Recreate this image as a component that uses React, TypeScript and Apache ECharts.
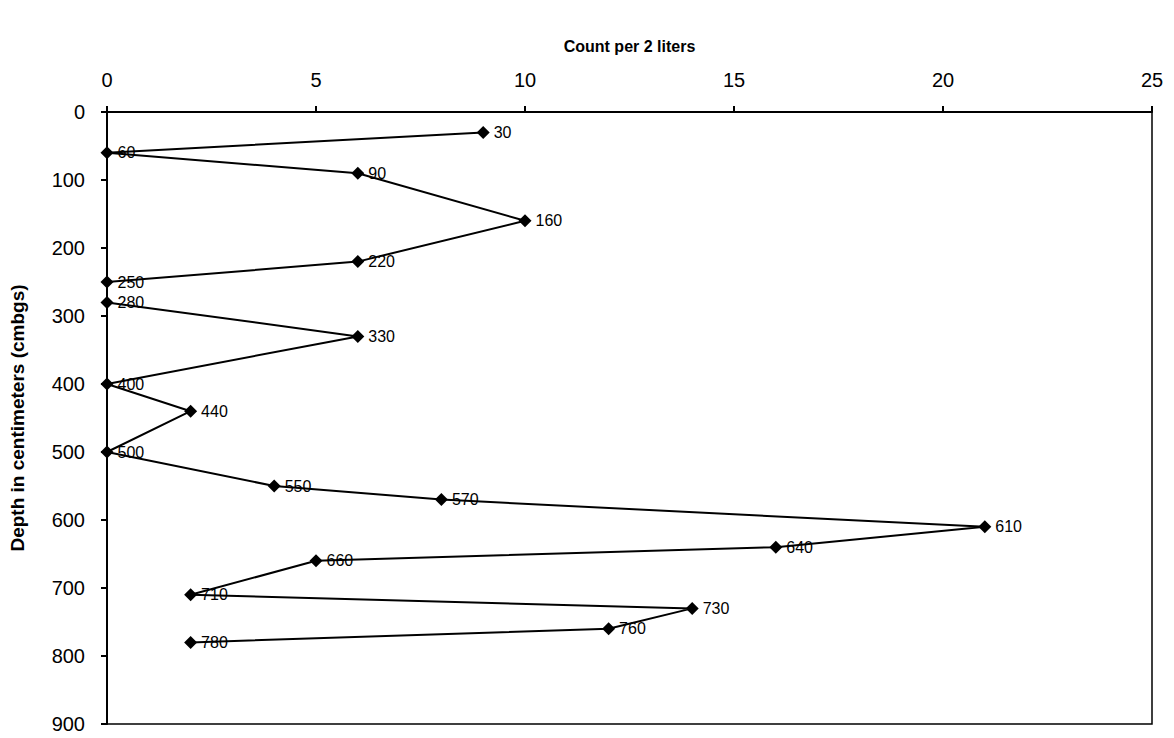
import React, { useEffect, useRef } from "react";
import * as echarts from "echarts";

const depths = [30, 60, 90, 160, 220, 250, 280, 330, 400, 440, 500, 550, 570, 610, 640, 660, 710, 730, 760, 780];
const counts = [9, 0, 6, 10, 6, 0, 0, 6, 0, 2, 0, 4, 8, 21, 16, 5, 2, 14, 12, 2];
const xTitle = "Count per 2 liters";
const yTitle = "Depth in centimeters (cmbgs)";

export default function App() {
  const ref = useRef<HTMLDivElement>(null);
  useEffect(() => {
    if (!ref.current) return;
    const chart = echarts.init(ref.current, null, { renderer: "svg" });
    const data = depths.map((d, i) => [counts[i], d]);
    chart.setOption({
      animation: false,
      backgroundColor: "#ffffff",
      textStyle: { fontFamily: "Liberation Sans, Arial, sans-serif", color: "#000" },
      grid: {
        left: 104,
        right: 22,
        top: 112,
        bottom: 14,
        show: true,
        borderColor: "#000",
        borderWidth: 1.5,
        backgroundColor: "transparent",
      },
      xAxis: {
        type: "value",
        position: "top",
        min: 0,
        max: 25,
        interval: 5,
        name: xTitle,
        nameLocation: "middle",
        nameGap: 58,
        nameTextStyle: { fontSize: 16, fontWeight: "bold", color: "#000" },
        axisLine: { show: true, lineStyle: { color: "#000", width: 2 } },
        axisTick: { show: true, inside: false, length: 6, lineStyle: { color: "#000", width: 2 } },
        axisLabel: { fontSize: 20, color: "#000", margin: 22 },
        splitLine: { show: false },
      },
      yAxis: {
        type: "value",
        inverse: true,
        min: 0,
        max: 900,
        interval: 100,
        name: yTitle,
        nameLocation: "middle",
        nameGap: 80,
        nameRotate: 90,
        nameTextStyle: { fontSize: 19, fontWeight: "bold", color: "#000" },
        axisLine: { show: true, lineStyle: { color: "#000", width: 2 } },
        axisTick: { show: true, inside: false, length: 6, lineStyle: { color: "#000", width: 2 } },
        axisLabel: { fontSize: 20, color: "#000", margin: 22 },
        splitLine: { show: false },
      },
      series: [
        {
          type: "line",
          data,
          symbol: "diamond",
          symbolSize: 13,
          itemStyle: { color: "#000" },
          lineStyle: { color: "#000", width: 2 },
          label: {
            show: true,
            position: "right",
            distance: 4,
            fontSize: 16,
            color: "#000",
            formatter: (p: any) => String(p.value[1]),
          },
        },
      ],
    });
    return () => chart.dispose();
  }, []);
  return <div ref={ref} style={{ position: "fixed", left: 0, top: 0, width: 1174, height: 738 }} />;
}
